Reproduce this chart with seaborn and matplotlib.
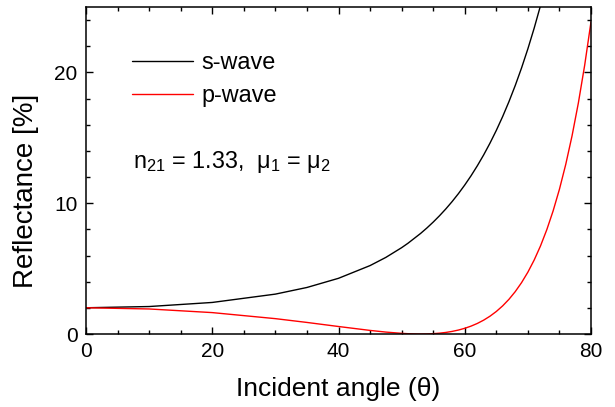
import matplotlib
matplotlib.use("Agg")
import matplotlib.pyplot as plt
import seaborn as sns
import pandas as pd
from matplotlib.ticker import MultipleLocator

# Data (reflectance in %)
s_angle = [0, 10, 20, 30, 35, 40, 45, 47.5, 50, 51, 53, 54, 55, 56, 57, 58, 59, 60,
           61, 62, 63, 64, 65, 66, 67, 68, 69, 70, 71, 72, 73]
s_refl = [2.006, 2.100, 2.412, 3.049, 3.557, 4.258, 5.231, 5.856, 6.600, 6.936, 7.686,
          8.104, 8.555, 9.040, 9.562, 10.125, 10.733, 11.390, 12.099, 12.867, 13.695,
          14.594, 15.566, 16.619, 17.762, 19.000, 20.344, 21.803, 23.387, 25.107, 26.980]
p_angle = [0, 10, 20, 30, 35, 40, 45, 47.5, 50, 51, 52.5, 53, 54, 55, 56, 57, 58, 59,
           60, 61, 62, 63, 64, 65, 66, 67, 68, 69, 70, 71, 72, 73, 74, 75, 76, 77, 78,
           79, 80]
p_refl = [2.006, 1.914, 1.636, 1.174, 0.884, 0.573, 0.274, 0.147, 0.050, 0.024, 0.002,
          0.000, 0.006, 0.026, 0.063, 0.119, 0.198, 0.302, 0.435, 0.603, 0.809, 1.060,
          1.362, 1.722, 2.148, 2.651, 3.240, 3.928, 4.728, 5.657, 6.733, 7.978, 9.413,
          11.066, 12.969, 15.157, 17.669, 20.554, 23.864]

x_ticks = [0, 20, 40, 60, 80]
y_ticks = [0, 10, 20]

sns.set_style("ticks")
plt.rcParams['font.family'] = ['Liberation Sans', 'DejaVu Sans']
plt.rcParams['mathtext.fontset'] = 'custom'
plt.rcParams['mathtext.rm'] = 'Liberation Sans'
plt.rcParams['mathtext.it'] = 'Liberation Sans:italic'
plt.rcParams['text.color'] = 'black'
plt.rcParams['axes.labelcolor'] = 'black'
plt.rcParams['xtick.color'] = 'black'
plt.rcParams['ytick.color'] = 'black'

fig = plt.figure(figsize=(6.15, 4.07), dpi=100)
ax = fig.add_axes([86/615, 73/407, 505/615, 327/407])

df_s = pd.DataFrame({"angle": s_angle, "R": s_refl})
df_p = pd.DataFrame({"angle": p_angle, "R": p_refl})
sns.lineplot(data=df_s, x="angle", y="R", ax=ax, color="black", lw=1.0, label="s-wave")
sns.lineplot(data=df_p, x="angle", y="R", ax=ax, color="red", lw=1.0, label="p-wave")

ax.set_xlim(0, 80)
ax.set_ylim(0, 25)
ax.set_xticks(x_ticks)
ax.set_yticks(y_ticks)
ax.xaxis.set_minor_locator(MultipleLocator(5))
ax.yaxis.set_minor_locator(MultipleLocator(2))
ax.tick_params(which="both", direction="in", top=True, right=True, width=1.0, color="black",
               labelcolor="black")
ax.tick_params(which="major", length=5, labelsize=15, pad=6)
ax.tick_params(which="minor", length=3.2)
for sp in ax.spines.values():
    sp.set_linewidth(1.1)
    sp.set_color("black")

ax.set_xlabel("Incident angle (θ)", fontsize=19, labelpad=11)
ax.set_ylabel("Reflectance [%]", fontsize=20)
ax.yaxis.set_label_coords(-0.093, 0.437)

leg = ax.legend(loc="upper left", bbox_to_anchor=(0.05, 0.93), frameon=False,
                fontsize=16.8, handlelength=2.6, handletextpad=0.35, labelspacing=0.45)

ax.text(7.46, 12.67, r"n$\mathregular{_{21}}$ = 1.33,  μ$\mathregular{_1}$ = μ$\mathregular{_2}$",
        fontsize=16.8, va="baseline", ha="left")

fig.savefig("out.png", dpi=100)
